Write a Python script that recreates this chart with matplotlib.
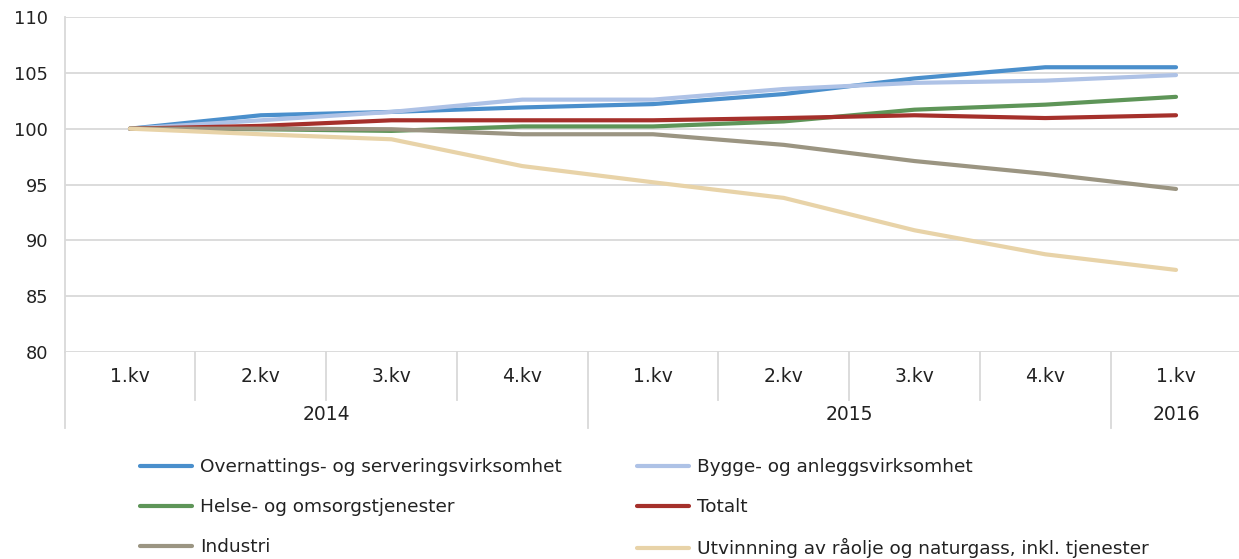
import numpy as np
import matplotlib.pyplot as plt
import matplotlib.transforms as mtransforms

plt.rcParams['font.family'] = ['DejaVu Sans']

quarters = ['1.kv', '2.kv', '3.kv', '4.kv', '1.kv', '2.kv', '3.kv', '4.kv', '1.kv']
years = ['2014', '2015', '2016']
year_span = [(0, 3), (4, 7), (8, 8)]

overnatting = [100, 101.2, 101.5, 101.9, 102.2, 103.1, 104.5, 105.5, 105.5]
bygge = [100, 100.75, 101.5, 102.6, 102.6, 103.55, 104.1, 104.3, 104.8]
helse = [100, 99.95, 99.8, 100.2, 100.2, 100.65, 101.7, 102.15, 102.85]
totalt = [100, 100.25, 100.75, 100.75, 100.75, 100.95, 101.2, 100.95, 101.2]
industri = [100, 100, 99.95, 99.5, 99.5, 98.55, 97.1, 95.95, 94.6]
utvinning = [100, 99.5, 99.05, 96.65, 95.2, 93.8, 90.9, 88.75, 87.35]

series = [
    ('Overnattings- og serveringsvirksomhet', overnatting, '#4A8FCC'),
    ('Bygge- og anleggsvirksomhet', bygge, '#AEC2E6'),
    ('Helse- og omsorgstjenester', helse, '#5E9558'),
    ('Totalt', totalt, '#A5302B'),
    ('Industri', industri, '#9B9582'),
    ('Utvinnning av råolje og naturgass, inkl. tjenester', utvinning, '#E8D3A8'),
]

W, H = 1239, 559
fig = plt.figure(figsize=(W / 100, H / 100), dpi=100)
ax = fig.add_axes([64.6 / W, 207 / H, (1241.4 - 64.6) / W, 335 / H])

x = np.arange(len(quarters))
lines = []
for name, vals, col in series:
    ln, = ax.plot(x, vals, color=col, lw=3.0, label=name, solid_capstyle='round')
    lines.append(ln)

ax.set_xlim(-0.5, len(quarters) - 0.5)
ax.set_ylim(80, 110)
ax.set_yticks(np.arange(80, 111, 5))
ax.yaxis.grid(True, color='#D9D9D9', lw=1.3)
ax.set_axisbelow(True)
for s in ['top', 'right', 'bottom']:
    ax.spines[s].set_visible(False)
ax.spines['left'].set_color('#D9D9D9')
ax.spines['left'].set_linewidth(1.3)
ax.tick_params(axis='y', length=0, pad=12, labelsize=12.8, labelcolor='#222222')
ax.set_xticks([])

# multi-level category axis
px = mtransforms.blended_transform_factory(ax.transData, ax.transAxes)
year_edges = [-0.5, 3.5, 7.5, 8.5]
for b in np.arange(-0.5, len(quarters), 1.0):
    depth = 76 if b in year_edges else 48
    ax.add_line(plt.Line2D([b, b], [0, -depth / 335], color='#D9D9D9', lw=1.3,
                           transform=px, clip_on=False))
for i, q in enumerate(quarters):
    ax.text(i, -25 / 335, q, transform=px, ha='center', va='center',
            fontsize=13.5, color='#222222')
for yr, (a, b) in zip(years, year_span):
    ax.text((a + b) / 2, -62 / 335, yr, transform=px, ha='center', va='center',
            fontsize=13.5, color='#222222')

# legend in two columns, row-wise order
leg_kw = dict(frameon=False, fontsize=13.3, handlelength=2.8, handletextpad=0.43,
              labelspacing=1.2, borderpad=0, borderaxespad=0, loc='upper left')
leg1 = fig.legend(lines[0::2], [s[0] for s in series[0::2]],
                  bbox_to_anchor=(140 / W, 1 - 458 / H), **leg_kw)
leg2 = fig.legend(lines[1::2], [s[0] for s in series[1::2]],
                  bbox_to_anchor=(637 / W, 1 - 458 / H), **leg_kw)
for lg in (leg1, leg2):
    for t in lg.get_texts():
        t.set_color('#222222')

fig.savefig('out.png', dpi=100)
